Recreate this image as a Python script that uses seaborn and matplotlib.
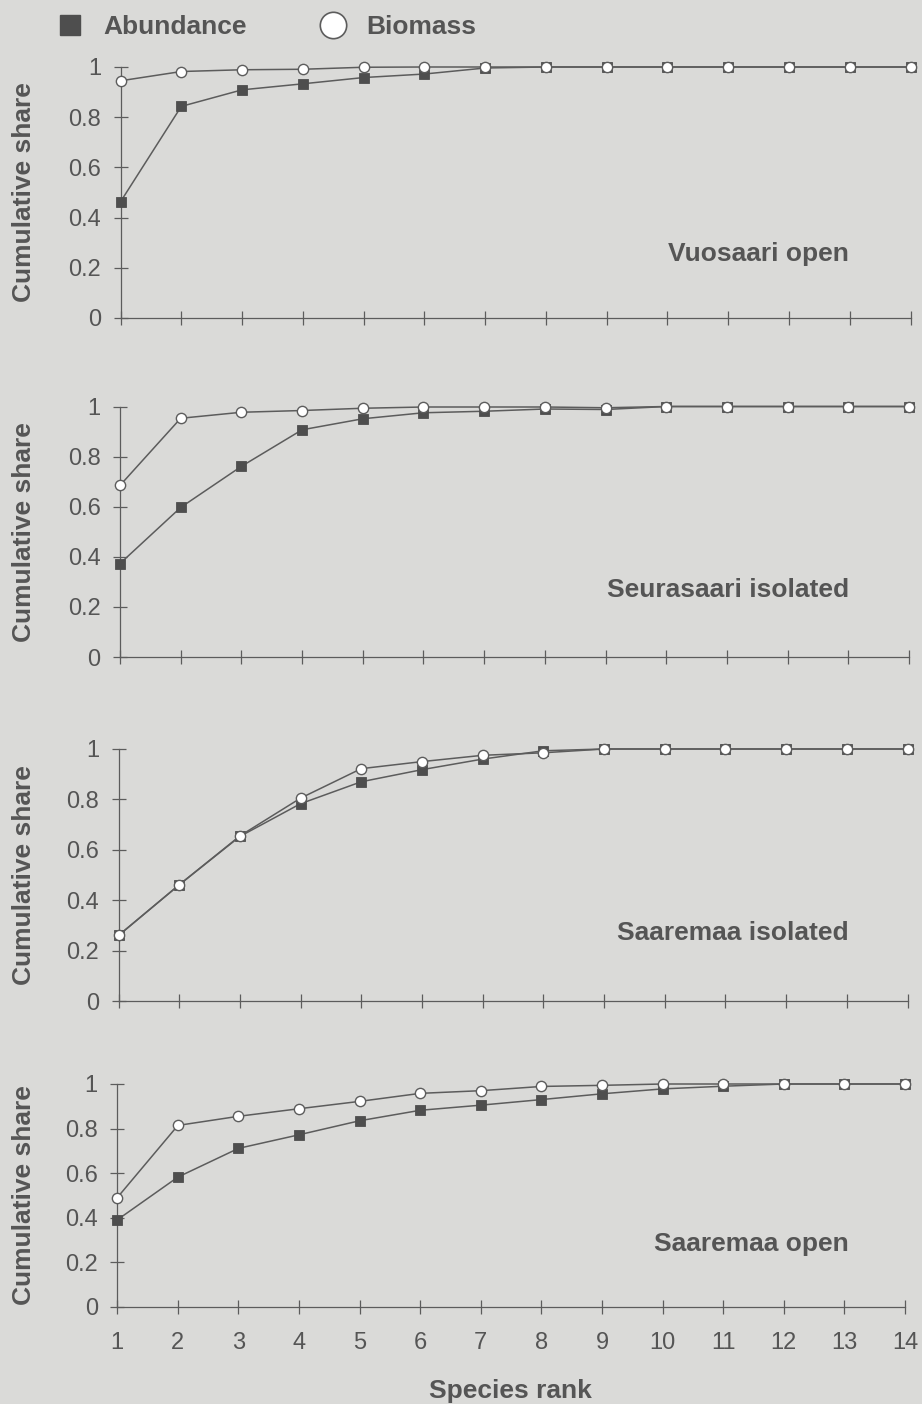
import matplotlib
matplotlib.use("Agg")
import matplotlib.pyplot as plt
from matplotlib.lines import Line2D
import seaborn as sns
import pandas as pd

# ---- data -----------------------------------------------------------------
ranks = list(range(1, 15))

panel_names = ["Vuosaari open", "Seurasaari isolated",
               "Saaremaa isolated", "Saaremaa open"]

vuosaari_open_abundance = [0.463, 0.843, 0.909, 0.933, 0.958, 0.972, 0.996,
                           1.0, 1.0, 1.0, 1.0, 1.0, 1.0, 1.0]
vuosaari_open_biomass = [0.945, 0.982, 0.989, 0.991, 0.999, 1.0, 1.0,
                         1.0, 1.0, 1.0, 1.0, 1.0, 1.0, 1.0]

seurasaari_isolated_abundance = [0.373, 0.597, 0.761, 0.907, 0.951, 0.975, 0.981,
                                 0.99, 0.988, 1.0, 1.0, 1.0, 1.0, 1.0]
seurasaari_isolated_biomass = [0.685, 0.953, 0.977, 0.984, 0.993, 0.998, 0.998,
                               0.998, 0.995, 1.0, 1.0, 1.0, 1.0, 1.0]

saaremaa_isolated_abundance = [0.26, 0.461, 0.653, 0.783, 0.870, 0.918, 0.960,
                               0.993, 1.0, 1.0, 1.0, 1.0, 1.0, 1.0]
saaremaa_isolated_biomass = [0.26, 0.461, 0.655, 0.805, 0.922, 0.950, 0.975,
                             0.985, 1.0, 1.0, 1.0, 1.0, 1.0, 1.0]

saaremaa_open_abundance = [0.39, 0.582, 0.711, 0.772, 0.835, 0.882, 0.905,
                           0.93, 0.956, 0.978, 0.99, 1.0, 1.0, 1.0]
saaremaa_open_biomass = [0.49, 0.814, 0.855, 0.889, 0.922, 0.958, 0.970,
                         0.989, 0.994, 1.0, 1.0, 1.0, 1.0, 1.0]

series_labels = ["Abundance", "Biomass"]
y_ticks = [0, 0.2, 0.4, 0.6, 0.8, 1.0]
y_tick_labels = ["0", "0.2", "0.4", "0.6", "0.8", "1"]

panels = [
    (vuosaari_open_abundance, vuosaari_open_biomass),
    (seurasaari_isolated_abundance, seurasaari_isolated_biomass),
    (saaremaa_isolated_abundance, saaremaa_isolated_biomass),
    (saaremaa_open_abundance, saaremaa_open_biomass),
]

# ---- style ----------------------------------------------------------------
bg = "#dadad8"
ink = "#555555"
line_col = "#5c5c5c"
fill_col = "#4e4e4e"

sns.set_theme(style="ticks")
plt.rcParams["font.family"] = ["Liberation Sans", "DejaVu Sans"]
plt.rcParams["text.color"] = ink
plt.rcParams["axes.labelcolor"] = ink
plt.rcParams["xtick.color"] = line_col
plt.rcParams["ytick.color"] = line_col
plt.rcParams["xtick.labelcolor"] = ink
plt.rcParams["ytick.labelcolor"] = ink

W, H = 922, 1404
fig = plt.figure(figsize=(W / 100, H / 100), dpi=100, facecolor=bg)

# axes boxes in pixels: left, right, y of value 1, y of value 0
boxes_px = [(120.5, 910.5, 67, 318),
            (120, 909, 406.5, 657),
            (118.5, 907.5, 749, 1001),
            (117.3, 905, 1084, 1306.7)]
label_y = [0.228, 0.241, 0.242, 0.252]

axes = []
for i, ((lp, rp, top_px, bot_px), (abund, biom), name) in enumerate(
        zip(boxes_px, panels, panel_names)):
    ax = fig.add_axes([lp / W, 1 - bot_px / H, (rp - lp) / W, (bot_px - top_px) / H])
    ax.set_facecolor("none")
    df = pd.DataFrame({"rank": ranks, "abundance": abund, "biomass": biom})
    sns.lineplot(data=df, x="rank", y="abundance", ax=ax, color=line_col,
                 linewidth=1.1, marker="s", markersize=6.6,
                 markerfacecolor=fill_col, markeredgecolor=fill_col,
                 markeredgewidth=0.6, clip_on=False, zorder=3)
    sns.lineplot(data=df, x="rank", y="biomass", ax=ax, color=line_col,
                 linewidth=1.1, marker="o", markersize=7.4,
                 markerfacecolor="white", markeredgecolor=line_col,
                 markeredgewidth=1.0, clip_on=False, zorder=4)

    ax.set_xlim(1, 14)
    ax.set_ylim(0, 1)
    ax.set_xticks(ranks)
    ax.set_yticks(y_ticks)
    ax.set_yticklabels(y_tick_labels)
    sns.despine(ax=ax)
    for s in ("left", "bottom"):
        ax.spines[s].set_color(line_col)
        ax.spines[s].set_linewidth(0.9)
    ax.tick_params(axis="both", direction="inout", length=10, width=0.9)
    ax.tick_params(axis="y", pad=9, labelsize=17)
    ax.tick_params(axis="x", pad=13.5, labelsize=17,
                   labelbottom=(i == len(panels) - 1))
    ax.set_xlabel("")
    ax.set_ylabel("Cumulative share", fontsize=19, fontweight="bold",
                  va="center")
    ax.yaxis.set_label_coords((24 - lp) / (rp - lp), 0.5)

    ax.text((849 - lp) / (rp - lp), label_y[i], name, transform=ax.transAxes,
            ha="right", va="baseline", fontsize=19, fontweight="bold", color=ink)
    axes.append(ax)

axes[-1].set_xlabel("Species rank", fontsize=19, fontweight="bold", va="top")
axes[-1].xaxis.set_label_coords((510 - 117.3) / (905 - 117.3), -0.325)

# legend across the top
handles = [
    Line2D([], [], ls="", marker="s", markersize=14, markerfacecolor=fill_col,
           markeredgecolor=fill_col),
    Line2D([], [], ls="", marker="o", markersize=19, markerfacecolor="white",
           markeredgecolor=line_col, markeredgewidth=1.2),
]
leg = fig.legend(handles, series_labels, loc="center left",
                 bbox_to_anchor=(57 / W, 1 - 27 / H), ncol=2, frameon=False,
                 borderpad=0, borderaxespad=0, handlelength=1.0,
                 handletextpad=0.76, columnspacing=2.75,
                 prop={"size": 19, "weight": "bold"})
for t in leg.get_texts():
    t.set_color(ink)

fig.savefig("out.png", dpi=100, facecolor=bg)
